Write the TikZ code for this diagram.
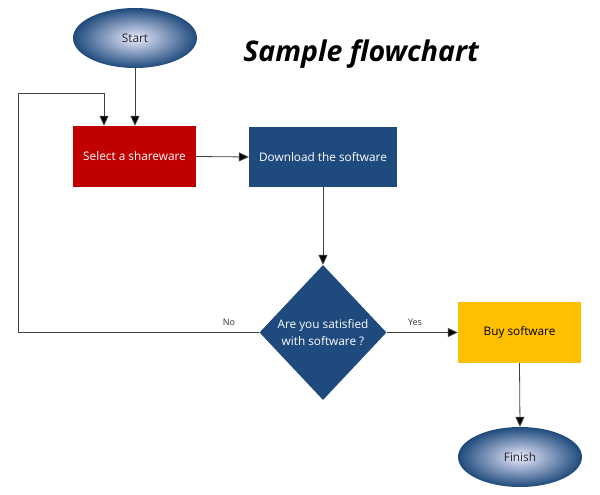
\documentclass[tikz,border=0pt]{standalone}
\usepackage{fontspec}
\setmainfont{Open Sans}
\usetikzlibrary{shapes.geometric,arrows.meta}
\definecolor{dblue}{HTML}{1F4A7E}
\definecolor{eblue}{HTML}{1E4A7C}
\definecolor{dred}{HTML}{C00000}
\definecolor{gold}{HTML}{FFC000}
\begin{document}
\begin{tikzpicture}[x=1pt,y=-1pt,
  every node/.style={font=\fontsize{11.8}{15}\selectfont},
  term/.style={ellipse,minimum width=124pt,minimum height=60pt,inner sep=0pt,
    inner color=white!92!blue,outer color=eblue,text=black!85},
  procbox/.style={rectangle,inner sep=0pt,text=white},
  decide/.style={diamond,fill=dblue,text=white,inner sep=0pt,align=center,
    minimum width=127pt,minimum height=135pt,font=\fontsize{11.8}{17.5}\selectfont},
  arr/.style={draw=black!75,line width=0.8pt,-{Triangle[length=10pt,width=9pt,fill=black]}},
  lbl/.style={font=\fontsize{9}{11}\selectfont,text=black!80}]
\useasboundingbox (0,0) rectangle (600,495);
\fill[white] (0,0) rectangle (600,495);
\node[term] (start) at (135,38) {Start};
\node[font=\bfseries\itshape\fontsize{28.5}{34}\selectfont] (title) at (361,54) {Sample flowchart};
\node[procbox,fill=dred,minimum width=123pt,minimum height=61pt] (sel) at (134.5,156.5) {Select a shareware};
\node[procbox,fill=dblue,minimum width=148pt,minimum height=60pt] (dl) at (323,157) {Download the software};
\node[decide] (dia) at (323,332.5) {Are you satisfied\\with software ?};
\node[procbox,fill=gold,text=black,minimum width=123pt,minimum height=61pt] (buy) at (519.5,332.5) {Buy software};
\node[term] (fin) at (520,457) {Finish};
\node[lbl] (no) at (229,322) {No};
\node[lbl] (yes) at (415,322) {Yes};
\coordinate (lp1) at (18,93);
\coordinate (lp2) at (104,93);
\draw[arr] (start.south) -- (start.south |- sel.north);
\draw[arr] (dia.west) -| (lp1) -- (lp2) -- (lp2 |- sel.north);
\draw[arr] (sel.east) -- (dl.west);
\draw[arr] (dl.south) -- (dia.north);
\draw[arr] (dia.east) -- (buy.west);
\draw[arr] (buy.south) -- (fin.north);
\end{tikzpicture}
\end{document}
